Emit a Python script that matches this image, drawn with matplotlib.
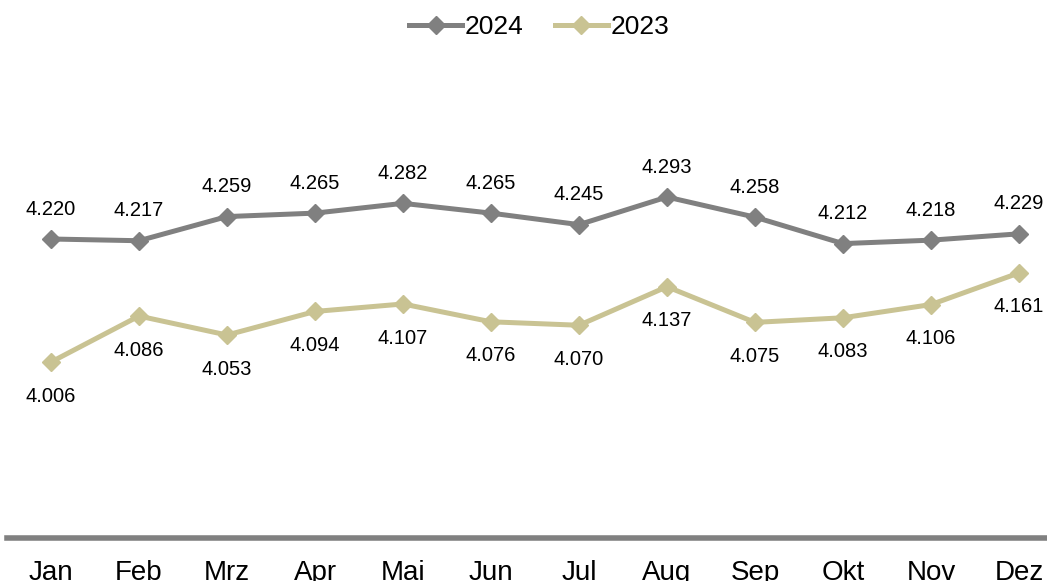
import numpy as np
import matplotlib.pyplot as plt
from matplotlib import rcParams

rcParams.update({'font.family': ['Liberation Sans', 'DejaVu Sans']})

months = ['Jan', 'Feb', 'Mrz', 'Apr', 'Mai', 'Jun', 'Jul', 'Aug', 'Sep', 'Okt', 'Nov', 'Dez']
vals_2024 = [4.220, 4.217, 4.259, 4.265, 4.282, 4.265, 4.245, 4.293, 4.258, 4.212, 4.218, 4.229]
vals_2023 = [4.006, 4.086, 4.053, 4.094, 4.107, 4.076, 4.070, 4.137, 4.075, 4.083, 4.106, 4.161]

C24 = '#808080'
C23 = '#C9C393'

W, H = 1047, 581
fig = plt.figure(figsize=(W / 100, H / 100), dpi=100)
ax = fig.add_axes([7 / W, (H - 538) / H, (W - 7) / W, 460 / H])

x = np.arange(len(months))
ax.plot(x, vals_2024, color=C24, lw=3.6, marker='D', ms=9, label='2024')
ax.plot(x, vals_2023, color=C23, lw=3.6, marker='D', ms=9, label='2023')

for i in x:
    ax.annotate(f'{vals_2024[i]:.3f}', (i, vals_2024[i]), xytext=(0, 21.5),
                textcoords='offset points', ha='center', va='center', fontsize=14.5)
    ax.annotate(f'{vals_2023[i]:.3f}', (i, vals_2023[i]), xytext=(0, -24.5),
                textcoords='offset points', ha='center', va='center', fontsize=14.5)

ax.set_xlim(-0.5, (W - 51) / 88)
ax.set_ylim(3.7, 4.5)
ax.set_xticks(x)
ax.set_xticklabels(months, fontsize=20)
ax.set_yticks([])
ax.tick_params(axis='x', length=0, pad=16)
for s in ['top', 'right', 'left']:
    ax.spines[s].set_visible(False)
ax.spines['bottom'].set_color(C24)
ax.spines['bottom'].set_linewidth(4)

fig.legend(loc='upper center', bbox_to_anchor=(0.515, 1.015), ncol=2, frameon=False,
           fontsize=19, handlelength=2.0, handletextpad=0.1, columnspacing=1.2)

fig.savefig('out.png', dpi=100)
